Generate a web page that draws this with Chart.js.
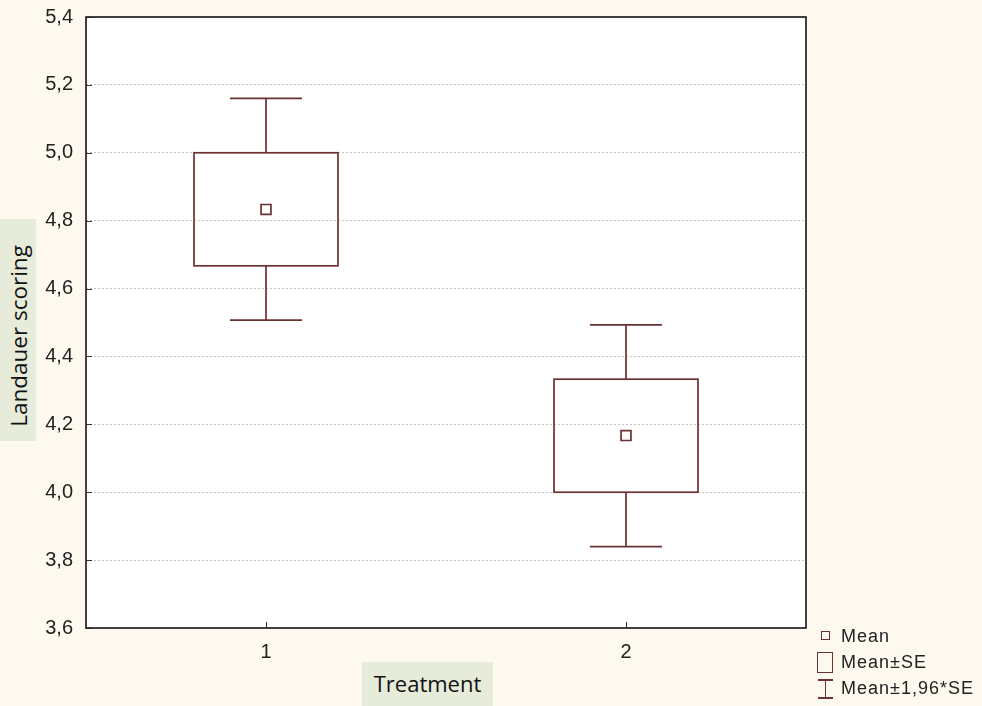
<!DOCTYPE html>
<html>
<head>
<meta charset="utf-8">
<script src="https://cdn.jsdelivr.net/npm/chart.js@4/dist/chart.umd.min.js"></script>
<style>
  html, body { margin: 0; padding: 0; background: #fdf9ee; }
  #wrap { position: relative; width: 982px; height: 706px; background: #fdf9ee; overflow: hidden; }
  canvas { position: absolute; left: 0; top: -8px; }
  .ytitle { position: absolute; left: 0px; top: 219px; width: 36px; height: 222px; background: #e6ebda; }
  .ytitle span { position: absolute; left: 18px; top: 117px; transform: translate(-50%, -50%) rotate(-90deg); white-space: nowrap; font-family: "Open Sans", "Noto Sans", sans-serif; font-size: 22.5px; color: #111; }
  .xtitle { position: absolute; left: 362px; top: 662px; width: 131px; height: 44px; background: #e6ebda; font-family: "Open Sans", "Noto Sans", sans-serif; font-size: 22px; color: #111; text-align: center; line-height: 42px; }
  .leg { position: absolute; left: 841px; font-family: "Liberation Sans", Arial, sans-serif; font-size: 18px; letter-spacing: 1px; color: #222; white-space: nowrap; }
  .sym { position: absolute; box-sizing: border-box; }
</style>
</head>
<body>
<div id="wrap">
  <canvas id="c" width="982" height="714"></canvas>
  <div class="ytitle"><span>Landauer scoring</span></div>
  <div class="xtitle">Treatment</div>
  <div class="sym" style="left:821px;top:631px;width:9px;height:9px;border:1.6px solid #6b3232;"></div>
  <div class="leg" style="top:626px;">Mean</div>
  <div class="sym" style="left:817px;top:652px;width:16px;height:21px;border:1.6px solid #6b3232;"></div>
  <div class="leg" style="top:652px;">Mean±SE</div>
  <div class="sym" style="left:818px;top:679px;width:15px;height:1.6px;background:#6b3232;"></div>
  <div class="sym" style="left:824.5px;top:679px;width:1.6px;height:19px;background:#6b3232;"></div>
  <div class="sym" style="left:818px;top:697px;width:15px;height:1.6px;background:#6b3232;"></div>
  <div class="leg" style="top:678px;">Mean±1,96*SE</div>
</div>
<script>
// ---- data ----
const categories = [1, 2];
const means    = [4.833, 4.167];
const seLow    = [4.667, 4.000];
const seHigh   = [5.000, 4.333];
const ciLow    = [4.507, 3.840];
const ciHigh   = [5.160, 4.493];
const yTicks   = [3.6, 3.8, 4.0, 4.2, 4.4, 4.6, 4.8, 5.0, 5.2, 5.4];

const COL = '#6b3232';
const BOX_HALF = 0.2;   // half box width in x units
const CAP_HALF = 0.1;   // half cap width in x units

const boxPlugin = {
  id: 'boxes',
  beforeDatasetsDraw(chart) {
    const { ctx, chartArea: a, scales: { x, y } } = chart;
    ctx.save();
    ctx.strokeStyle = '#333';
    ctx.lineWidth = 1;
    yTicks.forEach(v => {
      const py = Math.round(y.getPixelForValue(v)) + 0.5;
      ctx.beginPath(); ctx.moveTo(a.left, py); ctx.lineTo(a.left + 6, py); ctx.stroke();
    });
    categories.forEach(c => {
      const px = Math.round(x.getPixelForValue(c)) + 0.5;
      ctx.beginPath(); ctx.moveTo(px, a.bottom); ctx.lineTo(px, a.bottom - 6); ctx.stroke();
    });
    ctx.strokeStyle = COL;
    ctx.lineWidth = 1.7;
    categories.forEach((c, i) => {
      const xc = x.getPixelForValue(c);
      const xl = x.getPixelForValue(c - BOX_HALF);
      const xr = x.getPixelForValue(c + BOX_HALF);
      const cl = x.getPixelForValue(c - CAP_HALF);
      const cr = x.getPixelForValue(c + CAP_HALF);
      const yt = y.getPixelForValue(seHigh[i]);
      const yb = y.getPixelForValue(seLow[i]);
      const wt = y.getPixelForValue(ciHigh[i]);
      const wb = y.getPixelForValue(ciLow[i]);
      ctx.strokeRect(xl, yt, xr - xl, yb - yt);
      ctx.beginPath();
      ctx.moveTo(xc, yt); ctx.lineTo(xc, wt);
      ctx.moveTo(cl, wt); ctx.lineTo(cr, wt);
      ctx.moveTo(xc, yb); ctx.lineTo(xc, wb);
      ctx.moveTo(cl, wb); ctx.lineTo(cr, wb);
      ctx.stroke();
    });
    ctx.restore();
  },
  beforeDraw(chart) {
    const { ctx, chartArea: a } = chart;
    ctx.save();
    ctx.fillStyle = '#ffffff';
    ctx.fillRect(a.left, a.top, a.right - a.left, a.bottom - a.top);
    ctx.restore();
  },
  afterDraw(chart) {
    const { ctx, chartArea: a } = chart;
    ctx.save();
    ctx.strokeStyle = '#222';
    ctx.lineWidth = 1.7;
    ctx.strokeRect(a.left, a.top, a.right - a.left, a.bottom - a.top);
    ctx.restore();
  }
};

new Chart(document.getElementById('c'), {
  type: 'scatter',
  data: {
    datasets: [{
      label: 'Mean',
      data: categories.map((c, i) => ({ x: c, y: means[i] })),
      pointStyle: 'rect',
      pointRadius: 7,
      pointBackgroundColor: '#ffffff',
      pointBorderColor: COL,
      pointBorderWidth: 1.7,
      showLine: false
    }]
  },
  options: {
    responsive: false,
    animation: false,
    devicePixelRatio: 1,
    layout: { padding: { left: 0, right: 176, top: 2, bottom: 0 } },
    plugins: { legend: { display: false }, tooltip: { enabled: false } },
    scales: {
      x: {
        type: 'linear',
        min: 0.5, max: 2.5,
        afterBuildTicks: s => { s.ticks = categories.map(v => ({ value: v })); },
        afterFit: s => { s.height = 78; },
        grid: { display: false, drawTicks: false },
        border: { display: false },
        ticks: {
          padding: 12,
          color: '#222',
          font: { family: '"Liberation Sans", Arial, sans-serif', size: 20 },
          callback: v => String(v)
        }
      },
      y: {
        min: 3.6, max: 5.4,
        afterBuildTicks: s => { s.ticks = yTicks.map(v => ({ value: v })); },
        afterFit: s => { s.width = 86; },
        grid: {
          color: '#c4c4c4',
          lineWidth: 1,
          drawTicks: false
        },
        border: { display: false, dash: [2, 2] },
        ticks: {
          padding: 13,
          color: '#222',
          font: { family: '"Liberation Sans", Arial, sans-serif', size: 20 },
          callback: v => v.toFixed(1).replace('.', ',')
        }
      }
    }
  },
  plugins: [boxPlugin]
});
</script>
</body>
</html>
